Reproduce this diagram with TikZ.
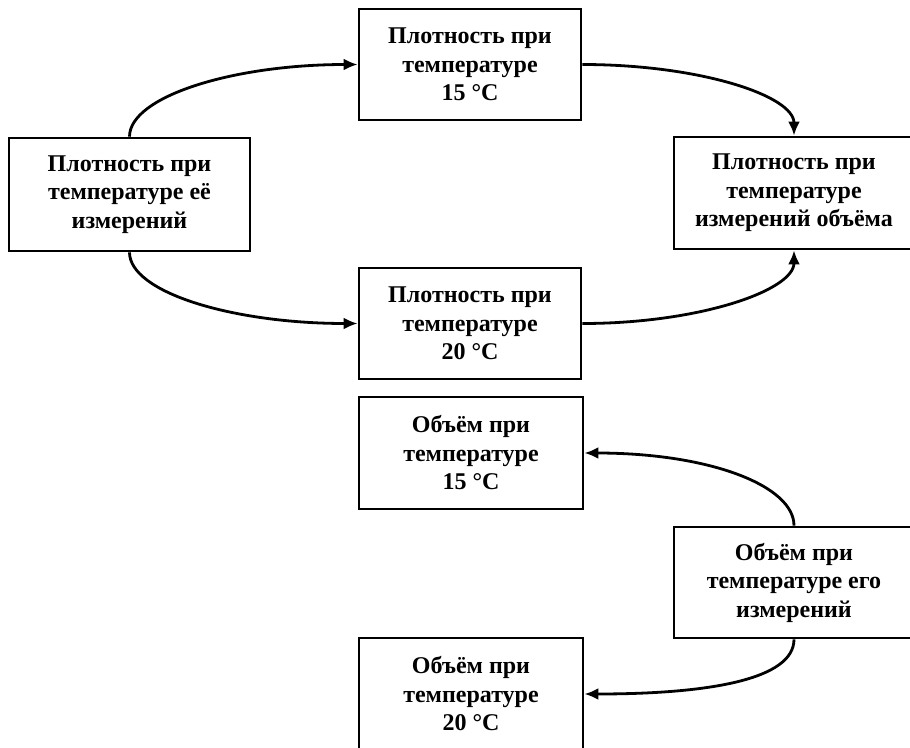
\documentclass[tikz,border=0pt]{standalone}
\usepackage{fontspec}
\setmainfont{Liberation Serif}
\usetikzlibrary{arrows.meta}
\begin{document}
\begin{tikzpicture}[x=1pt,y=-1pt,
  box/.style={draw=black,line width=2.7pt,rectangle,align=center,
    font=\fontsize{24}{28.5}\selectfont\bfseries,inner sep=0pt},
  conn/.style={line width=2.8pt,-{Latex[length=14pt,width=12pt]}},
  vh/.style={out distance=40pt,in distance=125pt},
  hv/.style={out distance=117pt,in distance=40pt}]
\useasboundingbox (0,0) rectangle (910,747);
\node[box,minimum width=222pt,minimum height=111pt] (t15) at (470,64.5) {Плотность при\\температуре\\15 °C};
\node[box,minimum width=241pt,minimum height=113pt] (left) at (129.5,194.5) {Плотность при\\температуре её\\измерений};
\node[box,minimum width=222pt,minimum height=111pt] (t20) at (470,323.5) {Плотность при\\температуре\\20 °C};
\node[box,minimum width=240pt,minimum height=112pt] (right) at (794,193) {Плотность при\\температуре\\измерений объёма};
\node[box,minimum width=224pt,minimum height=112pt] (v15) at (471,453) {Объём при\\температуре\\15 °C};
\node[box,minimum width=240pt,minimum height=111pt] (vright) at (794,582.5) {Объём при\\температуре его\\измерений};
\node[box,minimum width=224pt,minimum height=112pt] (v20) at (471,694) {Объём при\\температуре\\20 °C};
\draw[conn] (left.north) to[out=90,in=180,vh] (t15.west);
\draw[conn] (left.south) to[out=-90,in=180,vh] (t20.west);
\draw[conn] (t15.east) to[out=0,in=90,hv] (right.north);
\draw[conn] (t20.east) to[out=0,in=-90,hv] (right.south);
\draw[conn] (vright.north) to[out=90,in=0,vh] (v15.east);
\draw[conn] (vright.south) to[out=-90,in=0,vh] (v20.east);
\end{tikzpicture}
\end{document}
